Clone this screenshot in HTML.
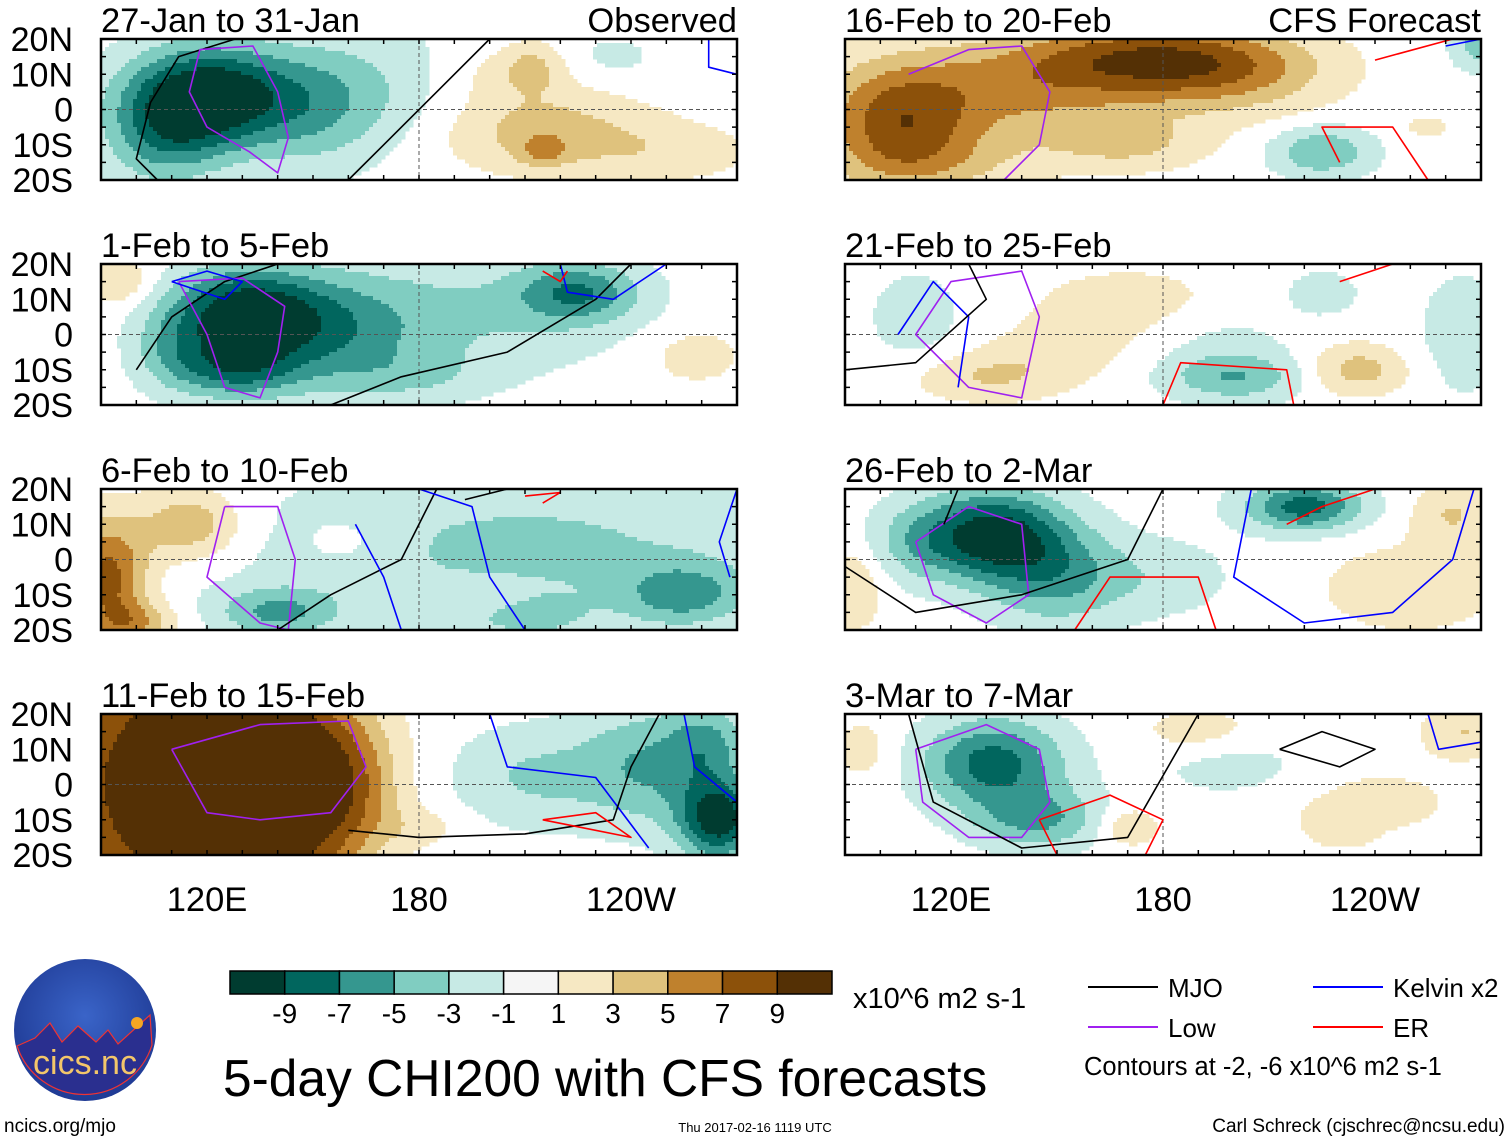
<!DOCTYPE html>
<html><head><meta charset="utf-8">
<style>
body{margin:0;background:#fff;width:1510px;height:1142px;overflow:hidden;font-family:"Liberation Sans",sans-serif}
svg{position:absolute;left:0;top:0}
</style></head>
<body>
<svg id="s" width="1510" height="1142" viewBox="0 0 1510 1142">
<defs>
<radialGradient id="lg" cx="50%" cy="40%" r="60%"><stop offset="0" stop-color="#3a64c8"/><stop offset="1" stop-color="#1f3a94"/></radialGradient>
</defs>
</svg>
<script>
const NS='http://www.w3.org/2000/svg';
const svg=document.getElementById('s');
const colors=['#003c30','#01665e','#35978f','#80cdc1','#c7eae5','#f5f5f5','#f6e8c3','#dfc27d','#bf812d','#8c510a','#543005'];
const levelLabels=['-9','-7','-5','-3','-1','1','3','5','7','9'];
const latTicks=['20N','10N','0','10S','20S'];
const lonTicks=['120E','180','120W'];
const lonTickValues=[120,180,240];
const titles=['27-Jan to 31-Jan','1-Feb to 5-Feb','6-Feb to 10-Feb','11-Feb to 15-Feb','16-Feb to 20-Feb','21-Feb to 25-Feb','26-Feb to 2-Mar','3-Mar to 7-Mar'];
// blobs: [lon, lat, amplitude, sigmaLon, sigmaLat]
const blobs0=[[120,4,-11,16,10],[108,-8,-5,12,10],[150,0,-4,15,12],[170,8,-2,20,12],[215,-6,4,20,8],[215,-12,3,5,3],[212,12,3,6,5],[250,-12,2,18,6],[200,10,1.5,15,6],[235,15,-1.5,10,5]];
const blobs1=[[130,6,-10,15,9],[128,-10,-6,12,6],[155,0,-5,18,12],[225,12,-6,12,6],[195,6,-3,30,12],[95,15,3,7,5],[258,-6,2,10,6],[110,-5,-3,8,8],[180,-12,-2,15,5]];
const blobs2=[[92,-5,8,8,12],[115,10,5,10,7],[140,-15,-5,12,5],[210,3,-3.5,55,16],[255,-10,-5,12,6],[160,5,1.5,10,6],[100,-18,4,8,4],[200,-12,1.5,10,4],[210,-16,-3,12,4]];
const blobs3=[[110,0,12,25,30],[140,0,9,14,25],[160,0,5,10,14],[265,-10,-10,8,8],[245,5,-5,15,12],[210,2,-3,15,10],[262,12,-4,8,8],[180,-12,1.5,10,4]];
const blobs4=[[105,-5,7,15,12],[175,15,7,25,7],[140,5,5,30,10],[200,10,4,20,8],[225,-12,-5,10,5],[270,18,-4,6,5],[170,-10,3,15,5],[120,-15,2,20,6],[255,-5,1.5,6,3]];
const blobs5=[[200,-12,-5,14,5],[235,-10,4,10,5],[130,-12,3,15,5],[170,8,2,20,8],[225,12,-2,8,5],[265,0,-2,10,14],[110,5,-2,10,10],[195,0,-1.5,15,6],[150,-5,1.5,15,6]];
const blobs6=[[132,7,-10,14,9],[150,-5,-5,14,10],[220,15,-8,12,5],[92,-8,3,6,8],[262,13,3,8,6],[250,-8,2,20,10],[180,-5,-2,15,8],[110,5,-3,10,8]];
const blobs7=[[132,6,-8,14,9],[145,-10,-5,13,6],[170,-12,3,6,4],[95,10,2,6,6],[265,15,3,8,5],[200,5,-2,15,6],[230,-12,2,6,4],[190,15,2,12,5],[240,-5,1.5,20,8]];
const allBlobs=[blobs0,blobs1,blobs2,blobs3,blobs4,blobs5,blobs6,blobs7];
// contour lines: [type, [lon,lat,...]]
const lines0=[['mjo',[128,20,112,15,104,2,100,-14,106,-20]],['mjo',[160,-20,170,-10,185,5,200,20]],['low',[118,17,133,18,140,5,143,-8,140,-18,132,-12,120,-5,115,5,118,17]],['kel',[262,20,262,12,270,10]]];
const lines1=[['mjo',[100,-10,110,5,125,15,140,20]],['mjo',[155,-20,175,-12,205,-5,230,10,240,20]],['low',[112,15,130,16,142,8,140,-5,135,-18,125,-15,120,0,112,15]],['kel',[110,15,125,10,130,15,120,18,110,15]],['kel',[220,20,222,12,235,10,250,20]],['er',[215,18,220,15,222,18]]];
const lines2=[['low',[125,15,140,15,145,0,143,-20,135,-18,120,-5,125,15]],['mjo',[140,-20,155,-10,175,0,185,20]],['kel',[180,20,195,15,200,-5,210,-20]],['kel',[162,10,170,-5,175,-20]],['kel',[268,-5,265,5,270,20]],['er',[210,18,220,19,215,16]],['mjo',[193,17,205,20]]];
const lines3=[['low',[110,10,135,17,160,18,165,5,155,-8,135,-10,120,-8,110,10]],['kel',[200,20,205,5,230,2,245,-18]],['kel',[255,20,258,5,270,-5]],['mjo',[160,-13,180,-15,210,-14,235,-10,240,5,248,20]],['er',[215,-10,230,-8,240,-15,225,-12,215,-10]]];
const lines4=[['low',[108,10,125,17,140,18,148,5,145,-10,135,-20]],['er',[230,-15,225,-5,245,-5,255,-20]],['er',[240,14,262,20]],['er',[255,20,270,20]],['kel',[260,18,270,20]]];
const lines5=[['low',[110,0,120,15,140,18,145,5,140,-18,125,-15,110,0]],['kel',[105,0,115,15,125,5,122,-15]],['mjo',[90,-10,110,-8,130,10,125,20]],['er',[180,-20,185,-8,215,-10,217,-20]],['er',[230,15,245,20,260,20]]];
const lines6=[['low',[110,5,125,15,140,10,142,-10,130,-18,115,-10,110,5]],['mjo',[90,-2,110,-15,140,-10,170,0,180,20]],['er',[155,-20,165,-5,190,-5,195,-20]],['kel',[205,20,200,-5,220,-18,245,-15,262,0,268,20]],['er',[215,10,225,15,240,20]],['mjo',[118,10,122,20]]];
const lines7=[['low',[110,10,130,17,145,10,148,-5,140,-15,125,-15,112,-5,110,10]],['mjo',[108,20,115,-5,140,-18,170,-15,190,20]],['er',[145,-10,165,-3,180,-10,175,-20,150,-20,145,-10]],['mjo',[213,10,225,15,240,10,230,5,213,10]],['er',[190,20,205,20]],['kel',[255,20,258,10,270,12]]];
const allLines=[lines0,lines1,lines2,lines3,lines4,lines5,lines6,lines7];
const lineCol={mjo:'#000',low:'#a020f0',kel:'#0000ff',er:'#ff0000'};

const LON0=90,LON1=270,LAT0=20,LAT1=-20;
const PW=636,PH=141;
const origins=[[101,39],[101,264],[101,489],[101,714],[845,39],[845,264],[845,489],[845,714]];
function el(t,a,p){const e=document.createElementNS(NS,t);for(const k in a)e.setAttribute(k,a[k]);(p||svg).appendChild(e);return e;}
function txt(x,y,s,size,anchor,p){const e=el('text',{x:x,y:y,'font-size':size,'text-anchor':anchor||'start','font-family':'Liberation Sans, sans-serif',fill:'#000'},p);e.textContent=s;return e;}
function lvl(v){let i=Math.floor((v+11)/2);return Math.max(0,Math.min(10,i));}

for(let p=0;p<8;p++){
  const [ox,oy]=origins[p];
  const xs=lon=>ox+(lon-LON0)/(LON1-LON0)*PW;
  const ys=lat=>oy+(LAT0-lat)/(LAT0-LAT1)*PH;
  const g=el('g',{});
  
  
  const cs=4;
  for(let y=0;y<PH;y+=cs){for(let x=0;x<PW;x+=cs){
    const lon=LON0+(x+cs/2)/PW*(LON1-LON0), lat=LAT0-(y+cs/2)/PH*(LAT0-LAT1);
    let v=0;for(const b of allBlobs[p]){const dx=(lon-b[0])/b[3],dy=(lat-b[1])/b[4];v+=b[2]*Math.exp(-0.5*(dx*dx+dy*dy));}
    const i=lvl(v);if(i===5)continue;
    el('rect',{x:ox+x,y:oy+y,width:Math.min(cs,PW-x)+0.5,height:Math.min(cs,PH-y)+0.5,fill:colors[i]},g);
  }}
  el('line',{x1:ox,x2:ox+PW,y1:ys(0),y2:ys(0),stroke:'#555','stroke-dasharray':'4 3','stroke-width':1},g);
  el('line',{x1:xs(180),x2:xs(180),y1:oy,y2:oy+PH,stroke:'#555','stroke-dasharray':'4 3','stroke-width':1},g);
  for(const L of allLines[p]){
    const pts=L[1];let d='';
    for(let k=0;k<pts.length;k+=2)d+=(k?'L':'M')+xs(pts[k]).toFixed(1)+' '+ys(pts[k+1]).toFixed(1);
    const e=el('path',{d:d,fill:'none',stroke:lineCol[L[0]],'stroke-width':1.6,'stroke-linejoin':'round'},g);
    
    
  }
  el('rect',{x:ox,y:oy,width:PW,height:PH,fill:'none',stroke:'#000','stroke-width':2.5},g);
  for(let lon=90;lon<=270;lon+=10){el('line',{x1:xs(lon),x2:xs(lon),y1:oy,y2:oy+5,stroke:'#000','stroke-width':1.5},g);el('line',{x1:xs(lon),x2:xs(lon),y1:oy+PH,y2:oy+PH-5,stroke:'#000','stroke-width':1.5},g);}
  for(let lat=-20;lat<=20;lat+=5){el('line',{x1:ox,x2:ox+5,y1:ys(lat),y2:ys(lat),stroke:'#000','stroke-width':1.5},g);el('line',{x1:ox+PW,x2:ox+PW-5,y1:ys(lat),y2:ys(lat),stroke:'#000','stroke-width':1.5},g);}
  const t=txt(ox,oy-7,titles[p],34.5,'start',g);
  
  
  if(p===0)txt(ox+PW,oy-7,'Observed',34.5,'end',g);
  if(p===4)txt(ox+PW,oy-7,'CFS Forecast',34.5,'end',g);
  if(p<4){latTicks.forEach((s,i)=>{const e=txt(73,oy+i*PH/4+12,s,34,'end',g);});}
  if(p===3||p===7){lonTicks.forEach((s,i)=>{const e=txt(xs(lonTickValues[i]),911,s,34.5,'middle',g);});}
}
const cb=el('g',{});


const bw=(832-230)/11;
colors.forEach((c,i)=>el('rect',{x:230+i*bw,y:971,width:bw,height:23,fill:c,stroke:'#000','stroke-width':1.5},cb));
levelLabels.forEach((s,i)=>txt(230+(i+1)*bw,1023,s,28,'middle',cb));
txt(853,1008,'x10^6 m2 s-1',29,'start',cb);
const ttl=txt(223,1096,'5-day CHI200 with CFS forecasts',51.5,'start');


const lg=el('g',{});


[['MJO','#000',1088,987],['Low','#a020f0',1088,1027],['Kelvin x2','#0000ff',1313,987],['ER','#ff0000',1313,1027]].forEach(a=>{
  el('line',{x1:a[2],x2:a[2]+70,y1:a[3],y2:a[3],stroke:a[1],'stroke-width':2},lg);
  txt(a[2]+80,a[3]+10,a[0],26,'start',lg);
});
txt(1084,1075,'Contours at -2, -6 x10^6 m2 s-1',25.5,'start',lg);
const lo=el('g',{});


el('circle',{cx:85,cy:1030,r:71,fill:'url(#lg)'},lo);
el('path',{d:'M17 1046 L35 1038 L50 1023 L62 1042 L78 1026 L96 1042 L108 1030 L118 1044 L150 1015 L152 1045 A71 71 0 0 1 17 1046Z',fill:'#2a2f8f',stroke:'#e33','stroke-width':1.2},lo);
el('circle',{cx:137,cy:1023,r:6,fill:'#f5a623'},lo);
const lt=txt(85,1074,'cics.nc',34,'middle',lo);lt.setAttribute('fill','#f3c66a');
txt(4,1132,'ncics.org/mjo',19,'start');
txt(755,1132,'Thu 2017-02-16 1119 UTC',13,'middle');
txt(1505,1132,'Carl Schreck (cjschrec@ncsu.edu)',19,'end');
</script>
</body></html>
